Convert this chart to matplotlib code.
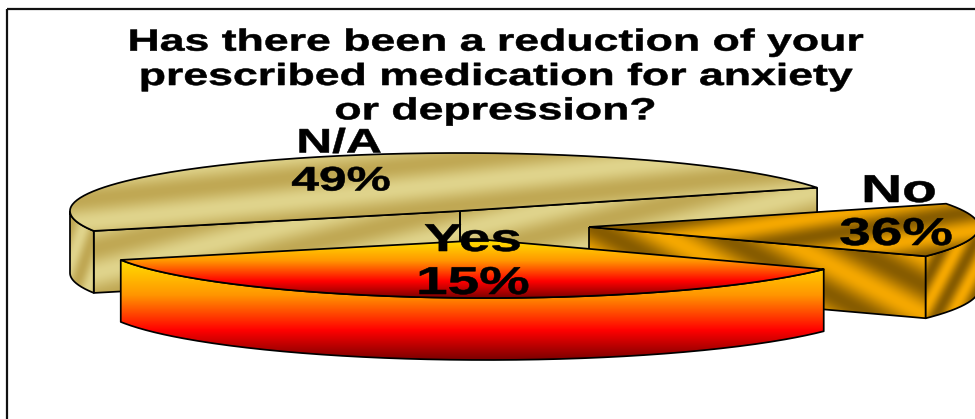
import numpy as np
import matplotlib
matplotlib.use("Agg")
import matplotlib.pyplot as plt
from matplotlib.path import Path
from matplotlib.patches import PathPatch, Rectangle
from matplotlib.patheffects import AbstractPathEffect
from matplotlib.transforms import Affine2D

# ---- data ----
title_text = "Has there been a reduction of your\nprescribed medication for anxiety\nor depression?"
slice_names = ["N/A", "No", "Yes"]            # draw order, back to front
drawn_shares = [49, 15, 36]                   # size of each wedge as it is drawn
label_percents = [49, 36, 15]                 # percentages printed on the chart

# ---- layout (pixels of the 975x419 canvas) ----
W, H = 975, 419
A, B, DEPTH = 390, 58, 62
START_DEG = 23.7
CENTER = (460, 211)
EXPLODE = {"N/A": (0, 0), "No": (129, 16), "Yes": (27, 29)}
LABEL_POS = {"N/A": ((339, 144), (341, 182)),
             "No": ((899, 192), (896, 235)),
             "Yes": ((473, 241), (473, 284))}
LABEL_SIZE = {"N/A": 24.5, "No": 28, "Yes": 28}
TAN = ((224, 212, 140), (192, 168, 84))
AMBER = ((245, 168, 0), (135, 92, 0))
FIRE = [(0.0, (255, 224, 0)), (0.35, (255, 150, 0)), (0.7, (255, 0, 0)), (1.0, (120, 0, 0))]
STRIPES = {"N/A": dict(top=(6, 46), cut=(14, 48), rim=(70, 26), pal=TAN),
           "No": dict(top=(9, 38), cut=(-28, 52), rim=(62, 26), pal=AMBER)}


class StretchX(AbstractPathEffect):
    """Widen and embolden real text, as the stretched original does."""
    def __init__(self, sx, cx, stroke=0.4):
        super().__init__()
        self.sx, self.cx, self.stroke = sx, cx, stroke

    def draw_path(self, renderer, gc, tpath, affine, rgbFace=None):
        t = affine + Affine2D().translate(-self.cx, 0).scale(self.sx, 1).translate(self.cx, 0)
        gc0 = renderer.new_gc()
        gc0.copy_properties(gc)
        gc0.set_linewidth(self.stroke)
        gc0.set_foreground("black")
        renderer.draw_path(gc0, tpath, t, rgbFace)
        gc0.restore()


fig = plt.figure(figsize=(W / 100, H / 100), dpi=100)
ax = fig.add_axes([0, 0, 1, 1])
ax.set_axis_off()


def stripes(bbox, slope, period, pal):
    x0, y0, x1, y1 = bbox
    xs, ys = np.meshgrid(np.arange(x0, x1 + 1) + .5, np.arange(y0, y1 + 1) + .5)
    a = np.deg2rad(slope)
    t = 0.5 + 0.5 * np.cos(2 * np.pi * (ys * np.cos(a) + xs * np.sin(a)) / period)
    light, dark = np.array(pal[0]) / 255, np.array(pal[1]) / 255
    return dark + t[..., None] * (light - dark)


def fire(bbox):
    x0, y0, x1, y1 = bbox
    n = y1 - y0 + 1
    u = np.linspace(0, 1, n)
    stops = np.array([s[0] for s in FIRE])
    cols = np.array([s[1] for s in FIRE]) / 255
    col = np.stack([np.interp(u, stops, cols[:, k]) for k in range(3)], axis=1)
    return np.repeat(col[:, None, :], x1 - x0 + 1, axis=1)


def face(pts, name, kind, z):
    pts = np.asarray(pts)
    x0, y0 = np.floor(pts.min(axis=0)).astype(int)
    x1, y1 = np.ceil(pts.max(axis=0)).astype(int)
    bbox = (x0, y0, x1, y1)
    if name == "Yes":
        img = fire(bbox)
    else:
        s = STRIPES[name]
        img = stripes(bbox, *s[kind], s["pal"])
    im = ax.imshow(img, extent=(x0, x1 + 1, y1 + 1, y0), aspect="auto",
                   interpolation="bilinear", zorder=z)
    poly = PathPatch(Path(np.vstack([pts, pts[:1]])), fc="none", ec="black", lw=1.25,
                     joinstyle="round", zorder=z + .5)
    ax.add_patch(poly)
    im.set_clip_path(poly)


angle = START_DEG
spans = {}
shares = dict(zip(slice_names, drawn_shares))
for n in ["N/A", "Yes", "No"]:
    spans[n] = (angle, angle + 3.6 * shares[n])
    angle += 3.6 * shares[n]

RIM_RANGE = {"N/A": lambda a, b: (180, b), "No": lambda a, b: (a, 360), "Yes": lambda a, b: (a, b)}

for i, name in enumerate(slice_names):
    z = 10 * (i + 1)
    t0, t1 = spans[name]
    ex, ey = EXPLODE[name]
    cx, cy = CENTER[0] + ex, CENTER[1] + ey

    def arc(a, b):
        th = np.deg2rad(np.linspace(a, b, 160))
        return np.column_stack([cx + A * np.cos(th), cy - B * np.sin(th)])

    down = np.array([0, DEPTH])
    apex = np.array([cx, cy], float)
    p0, p1 = arc(t0, t0)[0], arc(t1, t1)[0]
    # cut faces that look towards the viewer
    if name == "N/A":
        face([p0, apex, apex + down, p0 + down], name, "cut", z)
        face([apex, p1, p1 + down, apex + down], name, "cut", z)
    elif name == "No":
        face([apex, p0, p0 + down, apex + down], name, "cut", z)
    # outer rim: only the part of the arc on the front half
    rim = arc(*RIM_RANGE[name](t0, t1))
    face(np.vstack([rim, (rim + down)[::-1]]), name, "rim", z + 1)
    # top face
    face(np.vstack([[apex], arc(t0, t1)]), name, "top", z + 2)

# frame: only the top and left edges fall on the canvas
ax.add_patch(Rectangle((7, 9), 3000, 3000, fc="none", ec="#111111", lw=1.6, zorder=60))

ax.set_xlim(0, W)
ax.set_ylim(H, 0)

FONT = "Liberation Sans"
ax.text(495.5, 77, title_text, ha="center", va="center", ma="center", family=FONT,
        weight="bold", fontsize=22, linespacing=1.19, color="black", zorder=70,
        path_effects=[StretchX(1.46, 495.5)])

for name, pct in zip(slice_names, label_percents):
    (nx, ny), (px, py) = LABEL_POS[name]
    size = LABEL_SIZE[name]
    ax.text(nx, ny, name, ha="center", va="center", family=FONT, weight="bold",
            fontsize=size, color="black", zorder=70, path_effects=[StretchX(1.46, nx)])
    ax.text(px, py, f"{pct}%", ha="center", va="center", family=FONT, weight="bold",
            fontsize=size, color="black", zorder=70, path_effects=[StretchX(1.46, px)])

fig.savefig("out.png", dpi=100, facecolor="white")
